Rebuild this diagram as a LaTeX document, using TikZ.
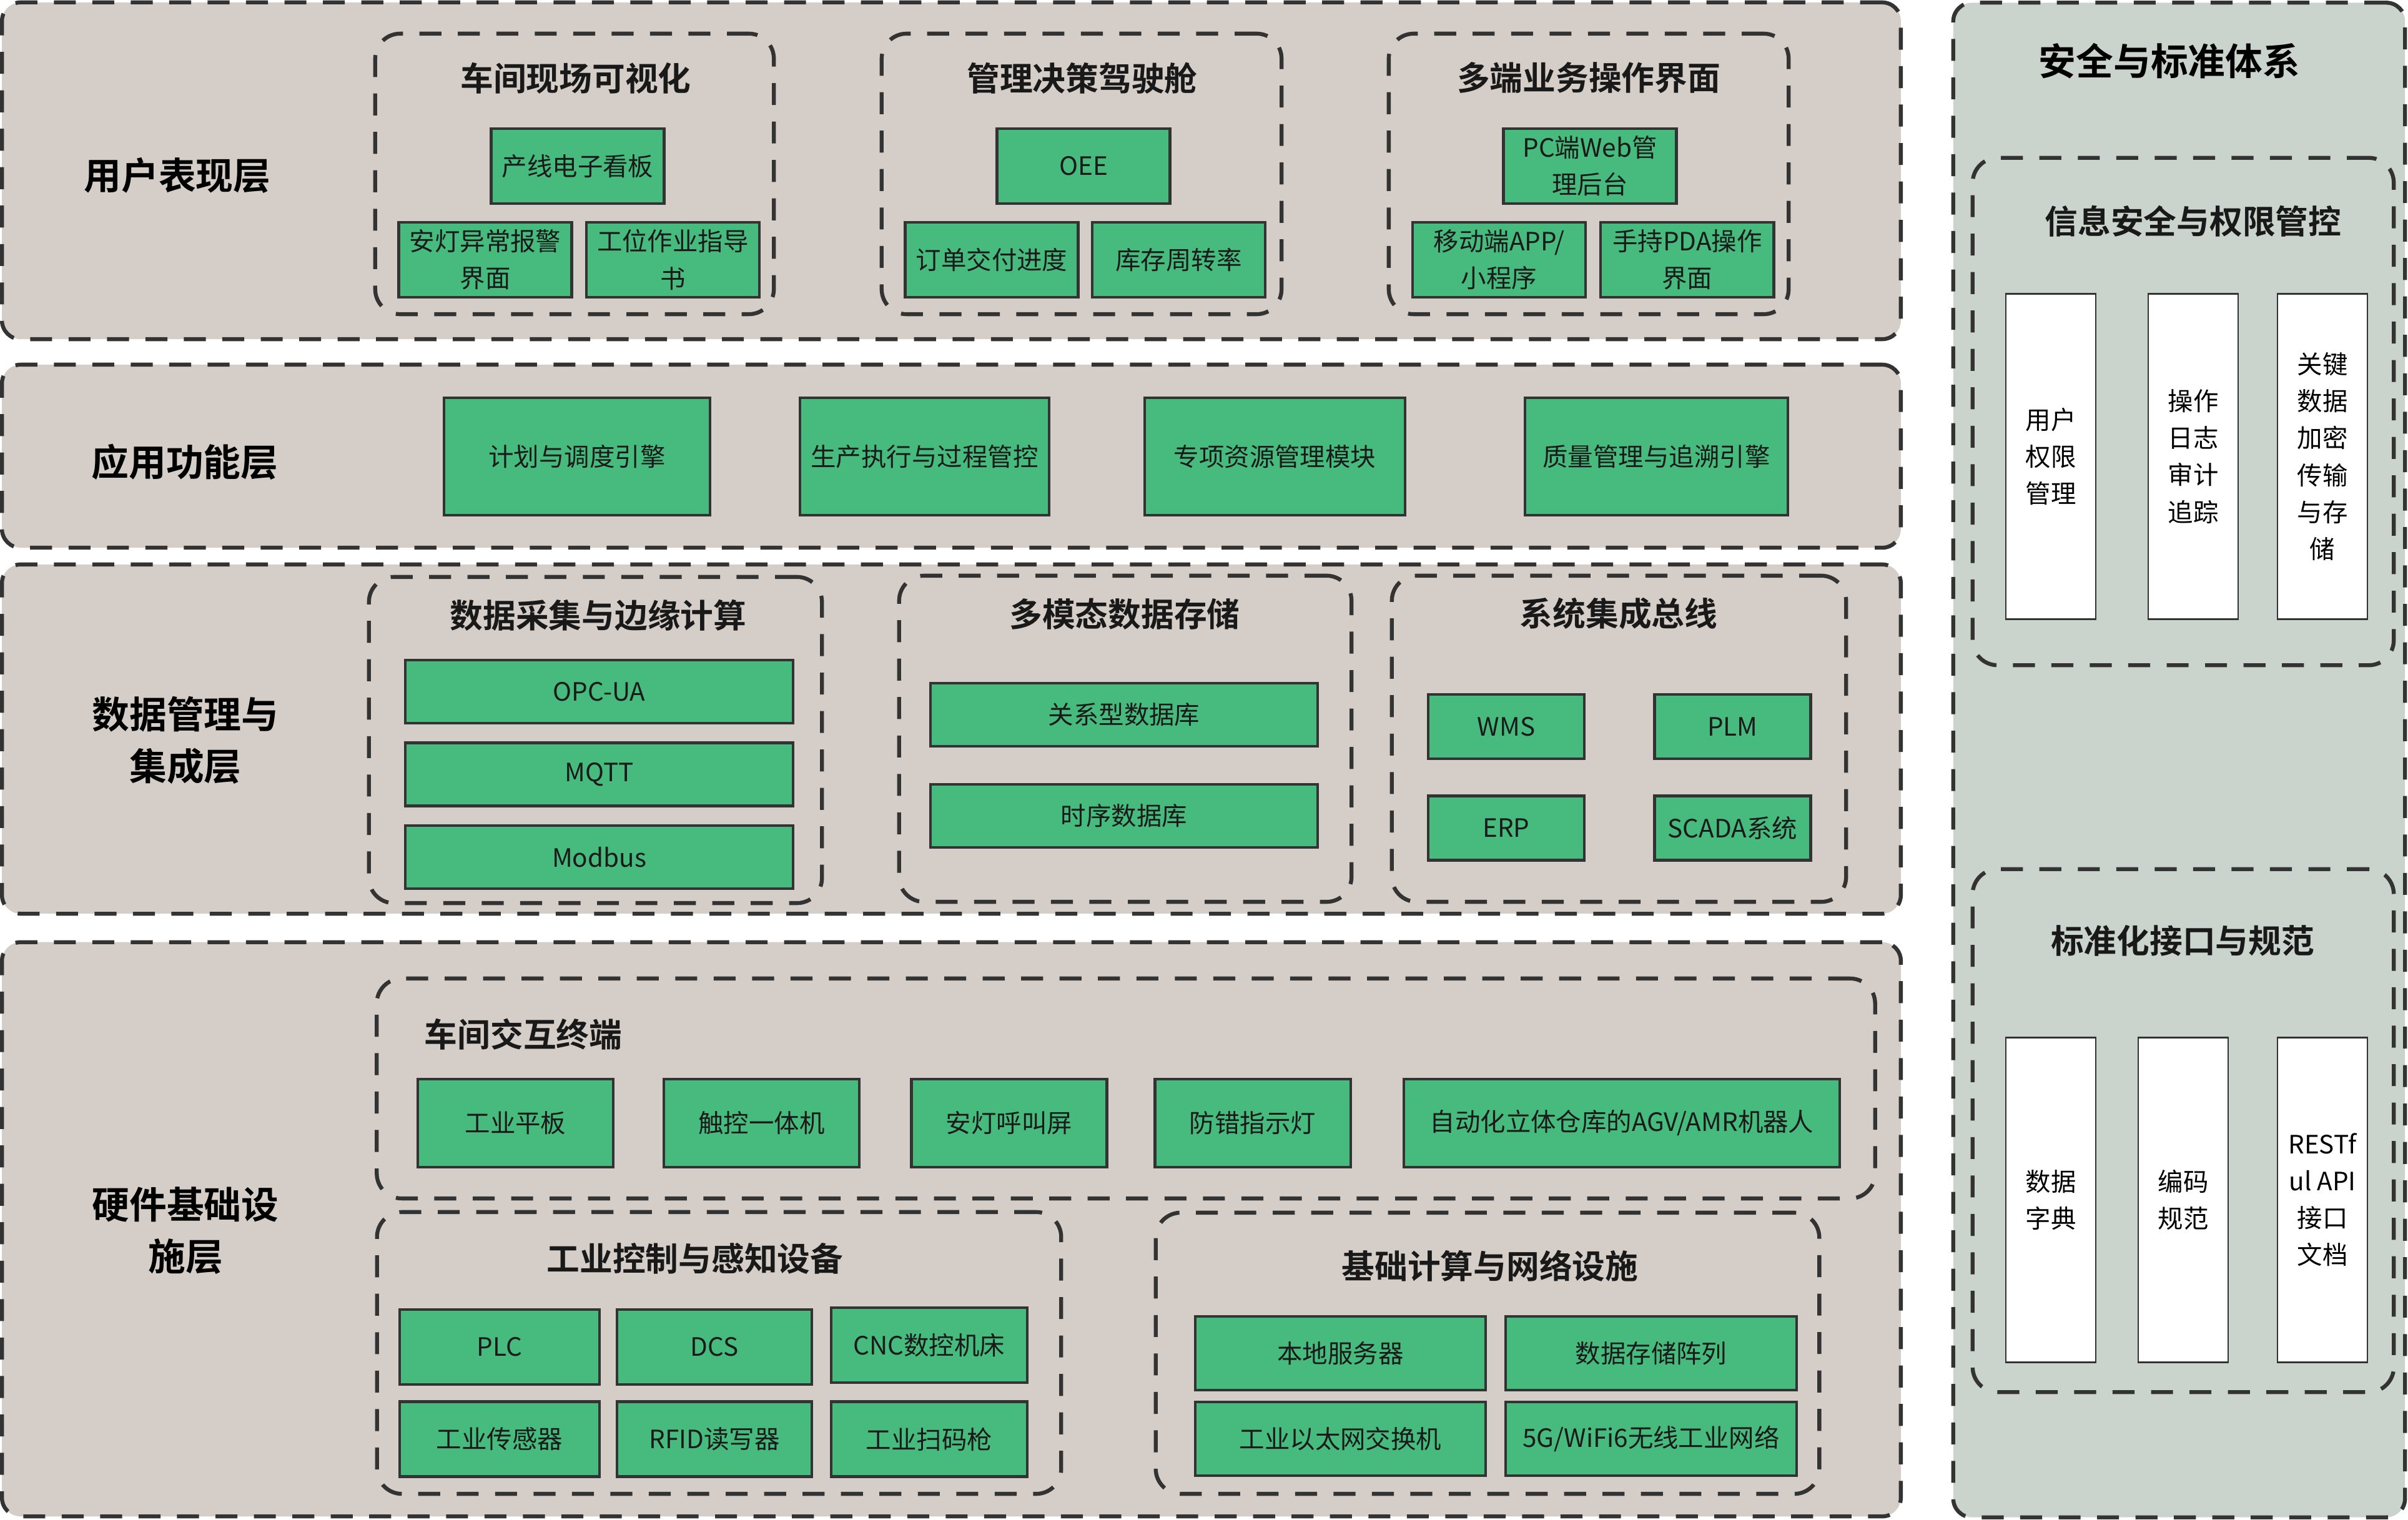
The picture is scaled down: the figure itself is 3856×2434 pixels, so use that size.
\documentclass[tikz,border=0pt]{standalone}
\usepackage{fontspec}
\setmainfont{Noto Sans CJK SC}[BoldFont={Noto Sans CJK SC Bold}]
\usepackage{tikz}
\usetikzlibrary{positioning}
\definecolor{mfLayer}{HTML}{D5CDC7}
\definecolor{mfSide}{HTML}{CAD4CC}
\definecolor{mfGreen}{HTML}{47BA7D}
\definecolor{mfLine}{HTML}{333333}
\definecolor{mfText}{HTML}{1A1A1A}
\tikzset{
  mfdash/.style={draw=mfLine, line width=1.8pt, dash pattern=on 10pt off 7.5pt},
  layerbox/.style={mfdash, rounded corners=3mm, fill=mfLayer, inner sep=0pt},
  sidelayer/.style={layerbox, fill=mfSide},
  grpbox/.style={mfdash, rounded corners=4mm, inner sep=0pt},
  layertitle/.style={font=\fontsize{17}{23.6}\selectfont\bfseries, align=center, text=black},
  grouptitle/.style={font=\fontsize{15}{20}\selectfont\bfseries, text=black!90},
  gbox/.style={
    draw=mfLine, line width=1.2pt, fill=mfGreen, align=center, inner sep=1pt,
    font=\fontsize{11.5}{16.8}\selectfont, text=mfText
  },
  uxcell/.style={gbox, minimum width=2.77cm, minimum height=1.2cm},
  appcell/.style={gbox, minimum height=1.88cm},
  widecell/.style={gbox, minimum width=6.2cm, minimum height=1.01cm},
  buscell/.style={gbox, minimum width=2.5cm, minimum height=1.03cm},
  termcell/.style={gbox, minimum width=3.13cm, minimum height=1.41cm},
  ctrlcell/.style={gbox, minimum width=3.16cm, minimum height=1.2cm},
  netcell/.style={gbox, minimum width=4.65cm, minimum height=1.18cm},
  wbox/.style={
    draw=mfLine, line width=0.8pt, fill=white, align=center, inner sep=1pt,
    minimum width=1.44cm, minimum height=5.2cm,
    font=\fontsize{11.5}{16.8}\selectfont, text=black
  }
}

\begin{document}
\begin{tikzpicture}[x=0.01cm, y=-0.01cm]
  \useasboundingbox (0,0) rectangle (3856,2434);

  % layers
  \node[layerbox, minimum width=30.39cm, minimum height=5.39cm] (uxlayer) at (1523.5,273.5) {};
  \node[layerbox, minimum width=30.39cm, minimum height=2.93cm] (applayer) at (1523.5,730.5) {};
  \node[layerbox, minimum width=30.39cm, minimum height=5.59cm] (datalayer) at (1523.5,1183.5) {};
  \node[layerbox, minimum width=30.39cm, minimum height=9.19cm] (hwlayer) at (1523.5,1968.5) {};
  \node[sidelayer, minimum width=7.23cm, minimum height=24.24cm] (seclayer) at (3489.5,1217) {};

  \node[layertitle] (uxtitle) at (284,281) {用户表现层};
  \node[layertitle] (apptitle) at (296,740) {应用功能层};
  \node[layertitle] (datatitle) at (297,1185) {数据管理与\\集成层};
  \node[layertitle] (hwtitle) at (297,1971) {硬件基础设\\施层};
  \node[layertitle] (sectitle) at (3474,98) {安全与标准体系};

  % user layer
  \node[grpbox, minimum width=6.38cm, minimum height=4.49cm] (visgrp) at (920,278.5) {};
  \node[grpbox, minimum width=6.4cm, minimum height=4.49cm] (cockpitgrp) at (1732,278.5) {};
  \node[grpbox, minimum width=6.4cm, minimum height=4.49cm] (multigrp) at (2544,278.5) {};
  \node[grouptitle] (vistitle) at (922,125) {车间现场可视化};
  \node[grouptitle] (cockpittitle) at (1733,125) {管理决策驾驶舱};
  \node[grouptitle] (multititle) at (2544,125) {多端业务操作界面};

  \node[uxcell] (kanban) at (925,266) {产线电子看板};
  \node[uxcell] (andonui) at (777,416) {安灯异常报警\\界面};
  \node[uxcell, right=0.19cm of andonui] (guideui) {工位作业指导\\书};
  \node[uxcell] (oee) at (1735,266) {OEE};
  \node[uxcell] (orderui) at (1588,416) {订单交付进度};
  \node[uxcell, right=0.18cm of orderui] (stockui) {库存周转率};
  \node[uxcell] (pcweb) at (2546,266) {PC端Web管\\理后台};
  \node[uxcell] (mobile) at (2400.5,416) {移动端APP/\\小程序};
  \node[uxcell, right=0.2cm of mobile] (pda) {手持PDA操作\\界面};

  % application layer
  \node[appcell, minimum width=4.26cm] (plan) at (924,731) {计划与调度引擎};
  \node[appcell, minimum width=3.99cm] (exec) at (1480.5,731) {生产执行与过程管控};
  \node[appcell, minimum width=4.17cm] (resource) at (2041.5,731) {专项资源管理模块};
  \node[appcell, minimum width=4.21cm] (quality) at (2652.5,731) {质量管理与追溯引擎};

  % data layer
  \node[grpbox, minimum width=7.25cm, minimum height=5.22cm] (edgegrp) at (953.5,1185) {};
  \node[grpbox, minimum width=7.24cm, minimum height=5.22cm] (storegrp) at (1802,1183) {};
  \node[grpbox, minimum width=7.27cm, minimum height=5.22cm] (busgrp) at (2592.5,1183) {};
  \node[grouptitle] (edgetitle) at (958,985) {数据采集与边缘计算};
  \node[grouptitle] (storetitle) at (1801,983) {多模态数据存储};
  \node[grouptitle] (bustitle) at (2592,983) {系统集成总线};

  \node[widecell] (opcua) at (959.5,1107.5) {OPC-UA};
  \node[widecell] (mqtt) at (959.5,1240) {MQTT};
  \node[widecell] (modbus) at (959.5,1372.5) {Modbus};
  \node[widecell] (rdb) at (1800,1144.5) {关系型数据库};
  \node[widecell] (tsdb) at (1800,1306.5) {时序数据库};
  \node[buscell] (wms) at (2412,1163.5) {WMS};
  \node[buscell] (plm) at (2774.5,1163.5) {PLM};
  \node[buscell] (erp) at (2412,1326) {ERP};
  \node[buscell] (scada) at (2774.5,1326) {SCADA系统};

  % hardware layer
  \node[grpbox, minimum width=23.98cm, minimum height=3.52cm] (termgrp) at (1803,1743) {};
  \node[grpbox, minimum width=10.95cm, minimum height=4.51cm] (ctrlgrp) at (1151.5,2166.5) {};
  \node[grpbox, minimum width=10.62cm, minimum height=4.5cm] (netgrp) at (2382,2167) {};
  \node[grouptitle] (termtitle) at (838,1656) {车间交互终端};
  \node[grouptitle] (ctrltitle) at (1113,2015) {工业控制与感知设备};
  \node[grouptitle] (nettitle) at (2386,2027) {基础计算与网络设施};

  \node[termcell] (tablet) at (825.5,1798.5) {工业平板};
  \node[termcell] (panelpc) at (1219.5,1798.5) {触控一体机};
  \node[termcell] (andonscr) at (1616,1798.5) {安灯呼叫屏};
  \node[termcell] (poka) at (2006,1798.5) {防错指示灯};
  \node[termcell, minimum width=6.98cm] (agv) at (2597,1798.5) {自动化立体仓库的AGV/AMR机器人};

  \node[ctrlcell, minimum width=3.2cm] (plc) at (800,2157) {PLC};
  \node[ctrlcell, minimum width=3.12cm] (dcs) at (1144,2157) {DCS};
  \node[ctrlcell, minimum width=3.14cm] (cnc) at (1488,2154) {CNC数控机床};
  \node[ctrlcell, minimum width=3.2cm] (sensor) at (800,2304.5) {工业传感器};
  \node[ctrlcell, minimum width=3.12cm] (rfid) at (1144,2304.5) {RFID读写器};
  \node[ctrlcell, minimum width=3.14cm] (scanner) at (1488,2304.5) {工业扫码枪};

  \node[netcell] (server) at (2146.5,2167) {本地服务器};
  \node[netcell] (storage) at (2644,2167) {数据存储阵列};
  \node[netcell] (switch) at (2146.5,2304) {工业以太网交换机};
  \node[netcell] (wireless) at (2644,2304) {5G/WiFi6无线工业网络};

  % security and standards
  \node[grpbox, minimum width=6.74cm, minimum height=8.12cm] (infosecgrp) at (3496,659) {};
  \node[grpbox, minimum width=6.74cm, minimum height=8.37cm] (stdgrp) at (3496,1810.5) {};
  \node[grouptitle] (infosectitle) at (3512,354) {信息安全与权限管控};
  \node[grouptitle] (stdtitle) at (3495,1506) {标准化接口与规范};

  \node[wbox] (rights) at (3284,731) {用户\\权限\\管理};
  \node[wbox] (audit) at (3512,731) {操作\\日志\\审计\\追踪};
  \node[wbox] (crypto) at (3719,731) {关键\\数据\\加密\\传输\\与存\\储};
  \node[wbox] (dict) at (3284,1921.5) {数据\\字典};
  \node[wbox] (coding) at (3496,1921.5) {编码\\规范};
  \node[wbox] (restapi) at (3719,1921.5) {RESTf\\ul API\\接口\\文档};
\end{tikzpicture}
\end{document}
